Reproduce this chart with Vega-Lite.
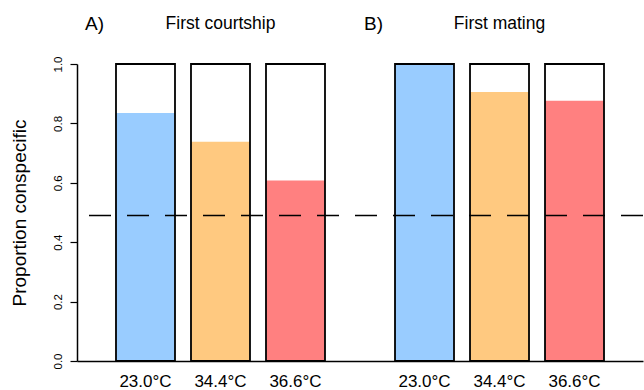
{
  "$schema": "https://vega.github.io/schema/vega-lite/v6.json",
  "autosize": "none",
  "width": 566,
  "height": 297,
  "padding": {"left": 77, "top": 64, "right": 1, "bottom": 29},
  "background": "white",
  "config": {
    "view": {"stroke": null},
    "font": "Liberation Sans",
    "axis": {"grid": false}
  },
  "datasets": {
    "bars": [
      {"panel": "A", "temp": "23.0°C", "value": 0.835, "full": 1},
      {"panel": "A", "temp": "34.4°C", "value": 0.738, "full": 1},
      {"panel": "A", "temp": "36.6°C", "value": 0.608, "full": 1},
      {"panel": "B", "temp": "23.0°C", "value": 1.0, "full": 1},
      {"panel": "B", "temp": "34.4°C", "value": 0.906, "full": 1},
      {"panel": "B", "temp": "36.6°C", "value": 0.876, "full": 1}
    ],
    "panels": [
      {"panel": "A", "letter": "A)", "title": "First courtship"},
      {"panel": "B", "letter": "B)", "title": "First mating"}
    ],
    "ref": [{"level": 0.49}]
  },
  "layer": [
    {
      "data": {"name": "bars"},
      "mark": {"type": "bar", "fill": "white", "stroke": null},
      "encoding": {
        "x": {"field": "panel", "type": "nominal", "scale": {"paddingInner": 0, "paddingOuter": 0.0143},
          "axis": {"title": null, "labels": false, "ticks": false, "domain": true, "domainColor": "black", "domainWidth": 1.5}},
        "xOffset": {"field": "temp", "type": "nominal", "scale": {"paddingInner": 0.2133, "paddingOuter": 0.4667}},
        "y": {"field": "full", "type": "quantitative", "scale": {"domain": [0, 1], "nice": false, "zero": true},
          "axis": {"title": "Proportion conspecific", "values": [0, 0.2, 0.4, 0.6, 0.8, 1.0], "format": ".1f",
            "labelAngle": -90, "labelAlign": "center", "labelBaseline": "alphabetic", "labelPadding": 9,
            "labelFontSize": 11.5, "labelColor": "black", "tickSize": 7, "tickColor": "black", "tickWidth": 1.2,
            "domainColor": "black", "domainWidth": 1.5,
            "titleFontSize": 19, "titleFontWeight": "normal", "titleColor": "black", "titlePadding": 23}}
      }
    },
    {
      "data": {"name": "bars"},
      "mark": {"type": "bar", "stroke": null},
      "encoding": {
        "x": {"field": "panel", "type": "nominal"},
        "xOffset": {"field": "temp", "type": "nominal"},
        "y": {"field": "value", "type": "quantitative"},
        "color": {"field": "temp", "type": "nominal", "legend": null,
          "scale": {"domain": ["23.0°C", "34.4°C", "36.6°C"], "range": ["#99CCFF", "#FFC980", "#FF8080"]}}
      }
    },
    {
      "data": {"name": "bars"},
      "mark": {"type": "bar", "fill": null, "fillOpacity": 0, "stroke": "black", "strokeWidth": 1.8},
      "encoding": {
        "x": {"field": "panel", "type": "nominal"},
        "xOffset": {"field": "temp", "type": "nominal"},
        "y": {"field": "full", "type": "quantitative"}
      }
    },
    {
      "data": {"name": "ref"},
      "mark": {"type": "rule", "color": "black", "strokeWidth": 1.5, "strokeDash": [22, 16]},
      "encoding": {"y": {"field": "level", "type": "quantitative"}}
    },
    {
      "data": {"name": "bars"},
      "mark": {"type": "text", "fontSize": 17, "baseline": "middle", "align": "center", "dy": 21, "color": "black"},
      "encoding": {
        "x": {"field": "panel", "type": "nominal"},
        "xOffset": {"field": "temp", "type": "nominal"},
        "y": {"datum": 0},
        "text": {"field": "temp"}
      }
    },
    {
      "data": {"name": "panels"},
      "mark": {"type": "text", "fontSize": 17.5, "baseline": "middle", "align": "center", "dy": -40, "color": "black"},
      "encoding": {
        "x": {"field": "panel", "type": "nominal"},
        "y": {"datum": 1},
        "text": {"field": "title"}
      }
    },
    {
      "data": {"name": "panels"},
      "mark": {"type": "text", "fontSize": 19, "baseline": "middle", "align": "left", "dy": -40, "dx": 4, "color": "black"},
      "encoding": {
        "x": {"field": "panel", "type": "nominal", "bandPosition": 0},
        "y": {"datum": 1},
        "text": {"field": "letter"}
      }
    }
  ]
}
